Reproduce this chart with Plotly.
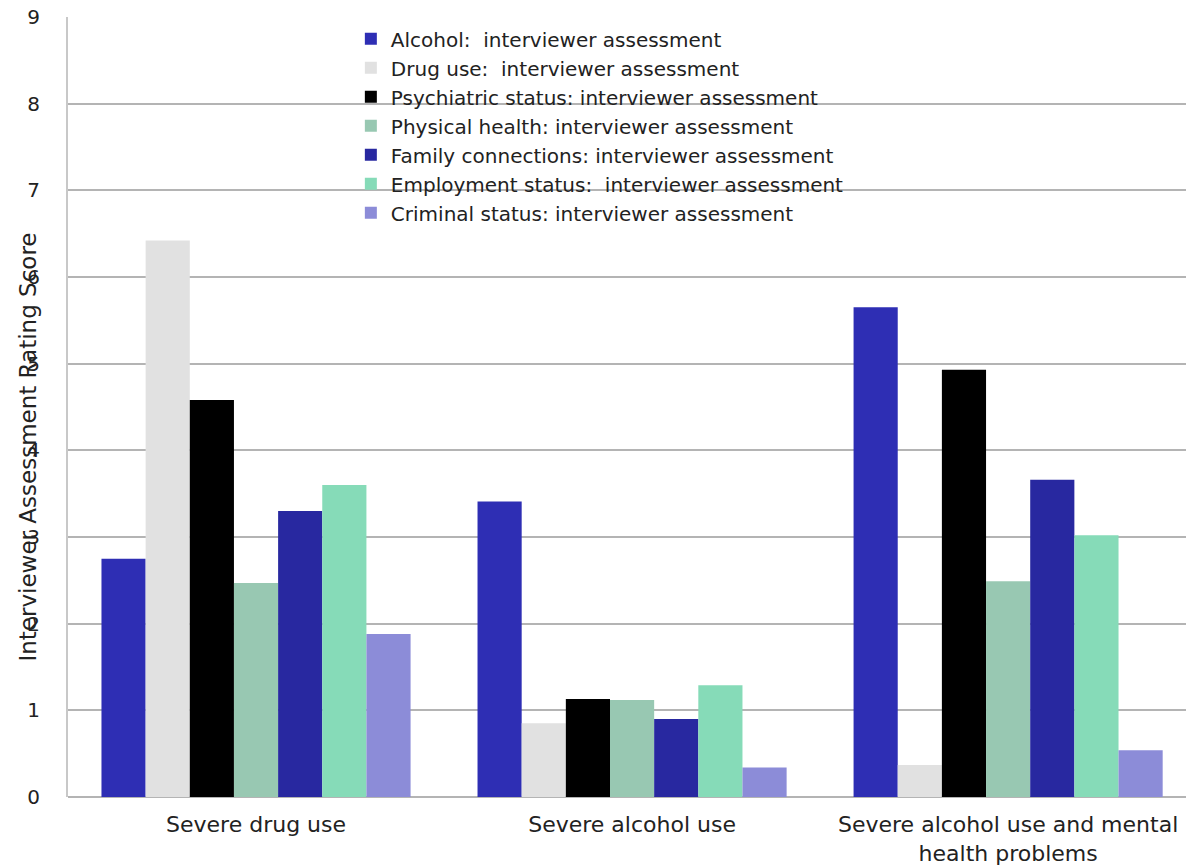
import plotly.graph_objects as go

categories = ["Severe drug use", "Severe alcohol use", "Severe alcohol use and mental<br>health problems"]
series_names = [
    "Alcohol:  interviewer assessment",
    "Drug use:  interviewer assessment",
    "Psychiatric status: interviewer assessment",
    "Physical health: interviewer assessment",
    "Family connections: interviewer assessment",
    "Employment status:  interviewer assessment",
    "Criminal status: interviewer assessment",
]
alcohol = [2.75, 3.41, 5.65]
drug_use = [6.42, 0.85, 0.37]
psychiatric = [4.58, 1.13, 4.93]
physical = [2.47, 1.12, 2.49]
family = [3.30, 0.90, 3.66]
employment = [3.60, 1.29, 3.02]
criminal = [1.88, 0.34, 0.54]
y_ticks = [0, 1, 2, 3, 4, 5, 6, 7, 8, 9]

colors = ["#2E2EB4", "#E1E1E1", "#000000", "#98C8B2", "#2828A0", "#86DBB8", "#8C8CD8"]
series = [alcohol, drug_use, psychiatric, physical, family, employment, criminal]

fig = go.Figure()
for name, vals, col in zip(series_names, series, colors):
    fig.add_trace(go.Bar(x=categories, y=vals, name=name, marker=dict(color=col, line=dict(width=0))))

font = "DejaVu Sans, Verdana, sans-serif"
fig.update_layout(
    width=1186, height=865,
    margin=dict(l=68, r=0, t=17, b=68),
    plot_bgcolor="white", paper_bgcolor="white",
    barmode="group", bargap=0.178, bargroupgap=0,
    font=dict(family=font, size=18, color="#222222"),
    showlegend=True,
    legend=dict(x=0.253, y=0.997, xanchor="left", yanchor="top", bgcolor="rgba(0,0,0,0)",
                font=dict(size=20, color="#222222"), tracegroupgap=0, itemwidth=30,
                traceorder="normal"),
    xaxis=dict(showgrid=False, showline=False, ticks="", tickfont=dict(size=22),
               range=[-0.5, 2.473], ticklabelstandoff=12),
    yaxis=dict(range=[0, 9], tickvals=y_ticks, showgrid=True, gridcolor="#B4B4B4", gridwidth=1.5,
               showline=True, linecolor="#C8C8C8", linewidth=2, zeroline=True, zerolinecolor="#B4B4B4",
               zerolinewidth=1.5, ticks="", ticklabelstandoff=22, tickfont=dict(size=20)),
    annotations=[dict(text="Interviewer Assessment Rating Score", textangle=-90, xref="paper", yref="paper",
                      x=-0.036, y=0.449, xanchor="center", yanchor="middle", showarrow=False,
                      font=dict(family="DejaVu Sans, sans-serif", size=23, color="#222222"))],
)
fig.write_html("out.html")
